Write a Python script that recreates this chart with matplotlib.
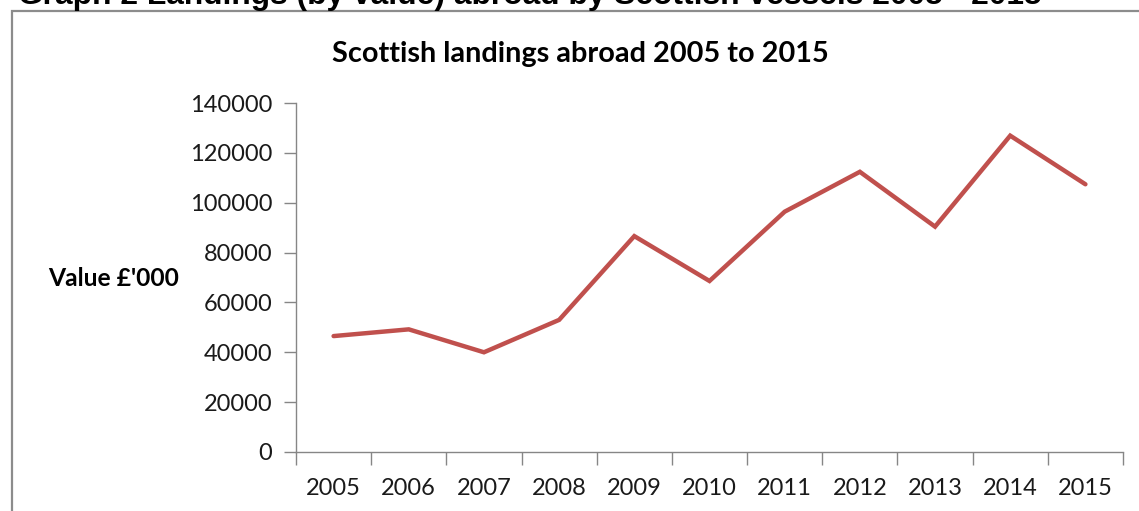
import matplotlib
matplotlib.use("Agg")
import matplotlib.pyplot as plt
from matplotlib.patches import Rectangle
from matplotlib.ticker import FixedLocator, NullFormatter

years = ["2005", "2006", "2007", "2008", "2009", "2010",
         "2011", "2012", "2013", "2014", "2015"]
# landings abroad, value in £'000
values = [46500, 49200, 40000, 53000, 86600, 68600,
          96400, 112400, 90400, 126900, 107400]
y_ticks = [0, 20000, 40000, 60000, 80000, 100000, 120000, 140000]

COLORS = {
    "line": "#c0504d",
    "axis": "#868686",
    "border": "#8c8c8c",
    "text": "#1a1a1a",
}
FONT = ["Lato", "DejaVu Sans"]

W, H = 1139, 511
fig = plt.figure(figsize=(W / 100, H / 100), dpi=100, facecolor="white")

# outer chart box (only left and top edges are inside the picture)
fig.add_artist(Rectangle((12 / W, -0.2), 1.5, 1.2 - 11 / H, transform=fig.transFigure,
                         fill=False, edgecolor=COLORS["border"], lw=1.6, clip_on=False))

# document heading, partly cut off at the top (as in the source page)
fig.text(18 / W, 1 - 4 / H, "Graph 2 Landings (by value) abroad by Scottish vessels 2005 - 2015",
         family=["Liberation Sans", "DejaVu Sans"], fontweight="bold", fontsize=22.9,
         ha="left", va="baseline", color="black")

ax = fig.add_axes([296 / W, 1 - 452 / H, (1123 - 296) / W, (452 - 103) / H])
x = list(range(len(years)))
ax.plot(x, values, color=COLORS["line"], lw=3.2, solid_joinstyle="miter", solid_capstyle="round")

ax.set_xlim(-0.5, len(years) - 0.5)
ax.set_ylim(0, 140000)

# Excel-style category axis: ticks between categories, labels centred
ax.xaxis.set_major_locator(FixedLocator([i - 0.5 for i in range(len(years) + 1)]))
ax.xaxis.set_major_formatter(NullFormatter())
ax.xaxis.set_minor_locator(FixedLocator(x))
ax.set_xticklabels(years, minor=True)
ax.tick_params(axis="x", which="major", direction="out", length=9, width=1, color=COLORS["axis"])
ax.tick_params(axis="x", which="minor", length=0, pad=19, labelsize=17, labelcolor=COLORS["text"])

ax.set_yticks(y_ticks)
ax.set_yticklabels([str(v) for v in y_ticks])
ax.tick_params(axis="y", direction="out", length=9, width=1, color=COLORS["axis"],
               pad=8, labelsize=17, labelcolor=COLORS["text"])

for lab in ax.get_xticklabels(minor=True) + ax.get_yticklabels():
    lab.set_family(FONT)

for side in ("top", "right"):
    ax.spines[side].set_visible(False)
for side in ("left", "bottom"):
    ax.spines[side].set_color(COLORS["axis"])
    ax.spines[side].set_linewidth(1)

fig.text(580 / W, 1 - 54 / H, "Scottish landings abroad 2005 to 2015",
         family=FONT, fontweight="bold", fontsize=20.8, ha="center", va="center",
         color="black")
fig.text(48 / W, 1 - 278 / H, "Value £'000", family=FONT, fontweight="bold",
         fontsize=17.7, ha="left", va="center", color="black")

fig.savefig("out.png", dpi=100, facecolor="white")
